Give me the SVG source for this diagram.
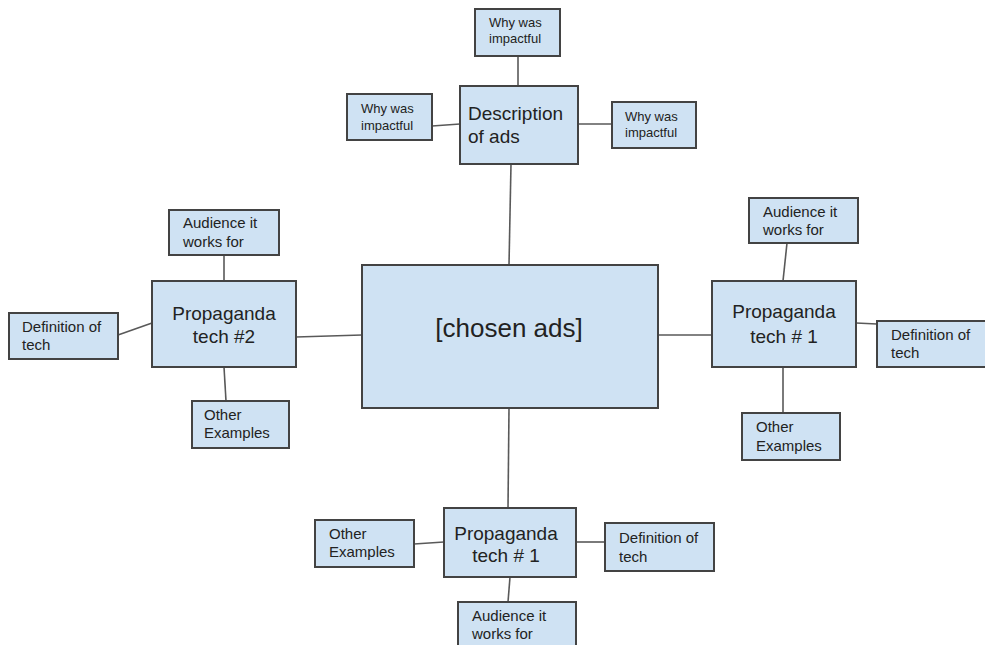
<svg xmlns="http://www.w3.org/2000/svg" width="985" height="645" viewBox="0 0 985 645">
<style>
rect{fill:#cfe2f3;stroke:#434343;stroke-width:2}
.c line{stroke:#595959;stroke-width:1.6}
text{font-family:"Liberation Sans",Arial,sans-serif;fill:#222}
.s{font-size:13px}
.m{font-size:15px}
.l{font-size:19px}
.xl{font-size:26px}
.mid{text-anchor:middle}
</style>
<rect x="0" y="0" width="985" height="645" style="fill:#fff;stroke:none"/>
<g class="c" id="connectors">
<line x1="518" y1="56" x2="518" y2="86"/>
<line x1="432" y1="126" x2="460" y2="124"/>
<line x1="578" y1="124" x2="612" y2="124"/>
<line x1="511" y1="164" x2="509" y2="265"/>
<line x1="224" y1="255" x2="224" y2="281"/>
<line x1="118" y1="335" x2="152" y2="323"/>
<line x1="224" y1="367" x2="226" y2="401"/>
<line x1="296" y1="337" x2="362" y2="335"/>
<line x1="787" y1="243" x2="783" y2="281"/>
<line x1="856" y1="323" x2="877" y2="324"/>
<line x1="783" y1="367" x2="783" y2="413"/>
<line x1="658" y1="335" x2="712" y2="335"/>
<line x1="509" y1="408" x2="508" y2="508"/>
<line x1="414" y1="544" x2="444" y2="542"/>
<line x1="576" y1="542" x2="605" y2="542"/>
<line x1="510" y1="577" x2="508" y2="602"/>
</g>
<g id="why-top"><rect x="475" y="9" width="85" height="47"/><text class="s" x="489" y="27">Why was</text><text class="s" x="489" y="43">impactful</text></g>
<g id="description"><rect x="460" y="86" width="118" height="78"/><text class="l" x="468" y="120">Description</text><text class="l" x="468" y="143">of ads</text></g>
<g id="why-left"><rect x="347" y="94" width="85" height="46"/><text class="s" x="361" y="113">Why was</text><text class="s" x="361" y="130">impactful</text></g>
<g id="why-right"><rect x="612" y="102" width="84" height="46"/><text class="s" x="625" y="121">Why was</text><text class="s" x="625" y="137">impactful</text></g>
<g id="center"><rect x="362" y="265" width="296" height="143"/><text class="xl mid" x="509" y="337">[chosen ads]</text></g>
<g id="aud2"><rect x="169" y="210" width="110" height="45"/><text class="m" x="183" y="228">Audience it</text><text class="m" x="183" y="247">works for</text></g>
<g id="prop2"><rect x="152" y="281" width="144" height="86"/><text class="l mid" x="224" y="320">Propaganda</text><text class="l mid" x="224" y="343">tech #2</text></g>
<g id="def2"><rect x="9" y="313" width="109" height="46"/><text class="m" x="22" y="332">Definition of</text><text class="m" x="22" y="350">tech</text></g>
<g id="other2"><rect x="192" y="401" width="97" height="47"/><text class="m" x="204" y="420">Other</text><text class="m" x="204" y="438">Examples</text></g>
<g id="aud1"><rect x="749" y="198" width="109" height="45"/><text class="m" x="763" y="217">Audience it</text><text class="m" x="763" y="235">works for</text></g>
<g id="prop1"><rect x="712" y="281" width="144" height="86"/><text class="l mid" x="784" y="318">Propaganda</text><text class="l mid" x="784" y="343">tech # 1</text></g>
<g id="def1"><rect x="877" y="321" width="112" height="46"/><text class="m" x="891" y="340">Definition of</text><text class="m" x="891" y="358">tech</text></g>
<g id="other1"><rect x="742" y="413" width="98" height="47"/><text class="m" x="756" y="432">Other</text><text class="m" x="756" y="451">Examples</text></g>
<g id="prop3"><rect x="444" y="508" width="132" height="69"/><text class="l mid" x="506" y="540">Propaganda</text><text class="l mid" x="506" y="562">tech # 1</text></g>
<g id="other3"><rect x="315" y="520" width="99" height="47"/><text class="m" x="329" y="539">Other</text><text class="m" x="329" y="557">Examples</text></g>
<g id="def3"><rect x="605" y="523" width="109" height="48"/><text class="m" x="619" y="543">Definition of</text><text class="m" x="619" y="562">tech</text></g>
<g id="aud3"><rect x="458" y="602" width="118" height="50"/><text class="m" x="472" y="621">Audience it</text><text class="m" x="472" y="639">works for</text></g>
</svg>
